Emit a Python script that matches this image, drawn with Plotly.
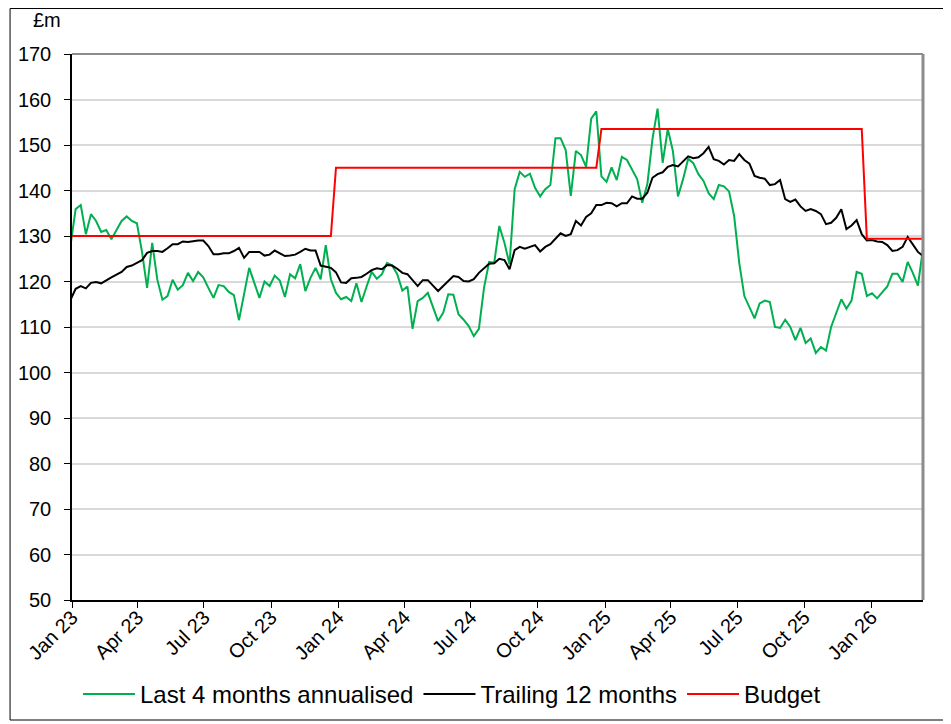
import pandas as pd
import plotly.graph_objects as go

# Weekly observation dates (Fridays), first one sits just before the axis start
start_date = "2022-12-30"
n_points = 168
dates = pd.date_range(start_date, periods=n_points, freq="7D")

last4_annualised = [
    128.0, 135.9, 136.8, 130.4, 134.8, 133.3, 130.9, 131.3, 129.3, 131.3,
    133.3, 134.3, 133.3, 132.8, 126.5, 118.6, 128.5, 120.4, 116.0, 116.8,
    120.4, 118.2, 119.2, 121.9, 120.1, 122.1, 120.9, 118.6, 116.4, 119.2,
    119.0, 117.7, 117.0, 111.5, 117.2, 123.0, 119.7, 116.4, 120.0, 119.0,
    121.3, 120.2, 116.6, 121.6, 120.7, 123.8, 117.9, 120.8, 123.0, 120.5,
    128.0, 120.5, 117.5, 116.1, 116.6, 115.7, 119.6, 115.5, 118.9, 122.1,
    120.6, 121.6, 124.1, 123.5, 121.6, 118.0, 118.9, 109.6, 115.7, 116.4,
    117.5, 114.6, 111.3, 113.1, 117.2, 117.1, 112.8, 111.6, 110.2, 108.0,
    109.6, 118.6, 124.3, 124.1, 132.2, 128.5, 123.8, 140.3, 144.1, 143.0,
    143.7, 140.6, 138.7, 140.3, 141.2, 151.5, 151.5, 148.9, 138.8, 148.7,
    147.8, 145.2, 155.8, 157.4, 143.1, 141.9, 145.1, 142.3, 147.4, 146.7,
    144.7, 142.5, 137.3, 141.4, 151.3, 158.0, 146.1, 153.5, 148.7, 138.7,
    142.5, 147.0, 146.0, 143.6, 142.1, 139.4, 138.1, 141.2, 140.9, 139.8,
    134.4, 124.1, 116.8, 114.2, 111.9, 115.2, 115.8, 115.5, 110.0, 109.8,
    111.6, 110.0, 107.1, 109.8, 106.5, 107.5, 104.3, 105.6, 104.8, 110.0,
    112.9, 116.1, 114.0, 115.8, 122.1, 121.7, 116.8, 117.4, 116.3, 117.7,
    118.9, 121.7, 121.7, 119.9, 124.3, 121.9, 119.1, 127.2,
]

trailing_12m = [
    116.0, 118.4, 119.0, 118.5, 119.7, 119.9, 119.6, 120.3, 120.9, 121.5,
    122.1, 123.2, 123.5, 124.1, 124.7, 126.3, 126.7, 126.7, 126.5, 127.3,
    128.2, 128.2, 128.8, 128.7, 128.9, 129.0, 129.0, 127.8, 126.0, 126.0,
    126.2, 126.2, 126.7, 127.4, 125.2, 126.5, 126.5, 126.5, 125.7, 125.9,
    126.8, 126.2, 125.6, 125.7, 125.9, 126.5, 127.2, 126.8, 126.8, 123.5,
    123.2, 123.0, 122.0, 119.8, 119.7, 120.7, 120.8, 121.0, 121.7, 122.5,
    122.9, 122.7, 123.6, 123.5, 122.8, 121.9, 121.6, 120.3, 119.0, 120.3,
    120.3, 119.1, 117.9, 119.0, 120.1, 121.2, 121.0, 120.1, 120.0, 120.5,
    121.9, 123.0, 123.9, 124.0, 125.0, 124.7, 122.7, 126.9, 127.6, 127.2,
    127.6, 128.0, 126.6, 127.6, 128.2, 129.3, 130.6, 130.0, 130.4, 133.3,
    132.3, 134.2, 135.0, 136.8, 136.8, 137.3, 137.2, 136.5, 137.2, 137.2,
    138.7, 138.2, 138.2, 139.5, 142.8, 143.6, 144.0, 145.2, 145.6, 145.3,
    146.5, 147.5, 147.1, 147.3, 148.2, 149.6, 146.9, 146.5, 145.7, 146.7,
    146.5, 148.0, 146.7, 145.9, 143.2, 142.8, 142.6, 141.2, 141.4, 142.3,
    138.1, 137.5, 138.0, 136.5, 135.5, 135.9, 135.5, 134.8, 132.6, 132.9,
    134.0, 135.9, 131.5, 132.3, 133.5, 130.4, 129.0, 129.1, 128.8, 128.7,
    128.0, 126.7, 126.9, 127.6, 129.8, 128.2, 126.5, 125.6,
]

budget = [130.0] * 52 + [145.0] * 52 + [153.5] * 52 + [129.4] * 12

y_ticks = list(range(50, 171, 10))

FONT = "Arial, Liberation Sans, sans-serif"

fig = go.Figure()
fig.add_trace(go.Scatter(x=dates, y=last4_annualised, mode="lines",
                         name="Last 4 months annualised",
                         line=dict(color="#00b050", width=2)))
fig.add_trace(go.Scatter(x=dates, y=trailing_12m, mode="lines",
                         name="Trailing 12 months",
                         line=dict(color="#000000", width=2)))
fig.add_trace(go.Scatter(x=dates, y=budget, mode="lines",
                         name="Budget",
                         line=dict(color="#ff0000", width=2)))

fig.update_layout(
    width=943, height=716,
    margin=dict(l=64, r=27.5, t=46, b=124, autoexpand=False),
    paper_bgcolor="white", plot_bgcolor="white",
    font=dict(family=FONT, color="black", size=20),
    showlegend=True,
    legend=dict(orientation="h", x=0.007, xanchor="left", y=-0.1727, yanchor="middle",
                font=dict(size=24, family=FONT), itemwidth=52,
                bgcolor="rgba(0,0,0,0)"),
    xaxis=dict(
        type="date",
        range=["2023-01-01", "2026-03-13"],
        tick0="2023-01-01", dtick="M3", tickformat="%b %y",
        tickangle=-45, ticks="outside", ticklen=6, tickcolor="black",
        showgrid=False, showline=True, linecolor="black", linewidth=1.5,
        tickfont=dict(size=20, family=FONT), zeroline=False,
        ticklabelstandoff=-10,
    ),
    yaxis=dict(
        range=[50, 170], tickvals=y_ticks,
        ticks="outside", ticklen=6, tickcolor="black",
        showgrid=True, gridcolor="#d9d9d9", gridwidth=1.5,
        showline=True, linecolor="black", linewidth=1.5,
        tickfont=dict(size=20, family=FONT), zeroline=False,
        ticklabelstandoff=9,
    ),
    shapes=[
        dict(type="line", xref="paper", yref="paper", x0=0, x1=1, y0=1, y1=1,
             line=dict(color="#8c8c8c", width=2)),
        dict(type="line", xref="paper", yref="paper", x0=1, x1=1, y0=0, y1=1,
             line=dict(color="#8c8c8c", width=3)),
        dict(type="rect", xref="paper", yref="paper",
             x0=-0.0728, x1=1.0288, y0=-0.2198, y1=1.0833,
             line=dict(color="black", width=1)),
    ],
    annotations=[
        dict(text="£m", xref="paper", yref="paper", x=-0.0294, y=1.0,
             yshift=34, showarrow=False, font=dict(size=20, family=FONT),
             xanchor="center", yanchor="middle"),
    ],
)

fig.write_html("out.html")
